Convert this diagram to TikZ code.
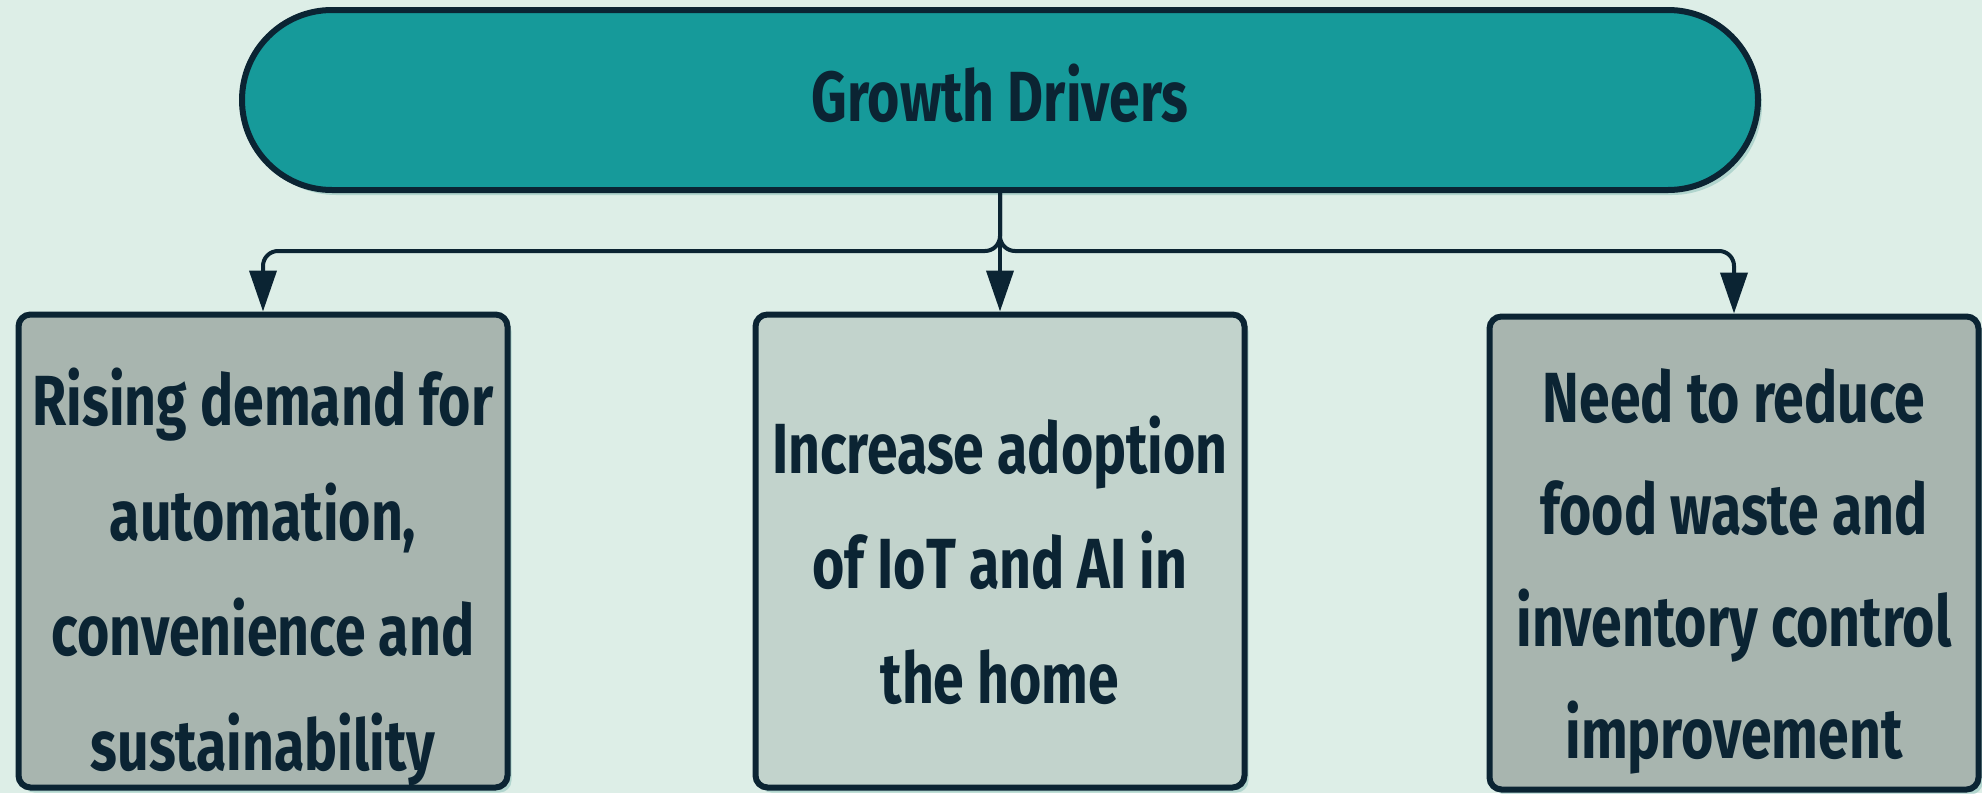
\documentclass[tikz,border=0pt]{standalone}
\usepackage{fontspec}
\usetikzlibrary{shapes.misc,arrows.meta,shadows}
\newfontfamily\condfont{Fira Sans}[FakeStretch=0.78]

\definecolor{bgcol}{HTML}{DDEEE7}
\definecolor{pillcol}{HTML}{169A9A}
\definecolor{inkcol}{HTML}{0B2433}
\definecolor{sidecol}{HTML}{A8B5AF}
\definecolor{midcol}{HTML}{C2D3CC}
\definecolor{shadecol}{HTML}{5FA8A0}

\tikzset{
  softshadow/.style={drop shadow={shadow xshift=4pt,shadow yshift=-5pt,fill=shadecol,opacity=0.35}},
  headbox/.style={rounded rectangle,draw=inkcol,line width=6pt,fill=pillcol,softshadow,
    minimum width=1516pt,minimum height=180pt,inner sep=0pt},
  itembox/.style={rectangle,rounded corners=12pt,draw=inkcol,line width=6pt,softshadow,
    minimum width=489pt,minimum height=473pt,inner sep=0pt},
  itemtext/.style={align=center,text=inkcol,inner sep=0pt,anchor=base,
    font=\condfont\bfseries\fontsize{71}{115}\selectfont},
  link/.style={draw=inkcol,line width=4pt,rounded corners=15pt,
    -{Triangle[width=27pt,length=41pt]}},
}

\begin{document}
\begin{tikzpicture}[x=1pt,y=-1pt]
  \useasboundingbox (0,0) rectangle (1982,793);
  \fill[bgcol] (0,0) rectangle (1982,793);

  % header
  \node[headbox] (top) at (1000,100) {};
  \node[itemtext] (toptext) at (1000,121) {Growth Drivers};

  % three driver boxes
  \node[itembox,fill=sidecol] (b1) at (263,551) {};
  \node[itembox,fill=midcol]  (b2) at (1000,551) {};
  \node[itembox,fill=sidecol] (b3) at (1734,553) {};

  % multi-line labels are placed by the baseline of their last line
  \node[itemtext] (t1) at (263,770) {Rising demand for\\automation,\\convenience and\\sustainability};
  \node[itemtext] (t2) at (1000,703) {Increase adoption\\of IoT and AI in\\the home};
  \node[itemtext,font=\condfont\bfseries\fontsize{71}{112}\selectfont] (t3) at (1734,758)
    {Need to reduce\\food waste and\\inventory control\\improvement};

  % connectors
  \coordinate (split) at (1000,251);
  \draw[link] (top.south) -- (split) -| (b1.north);
  \draw[link] (top.south) -- (split) -| (b3.north);
  \draw[link] (top.south) -- (b2.north);
\end{tikzpicture}
\end{document}
